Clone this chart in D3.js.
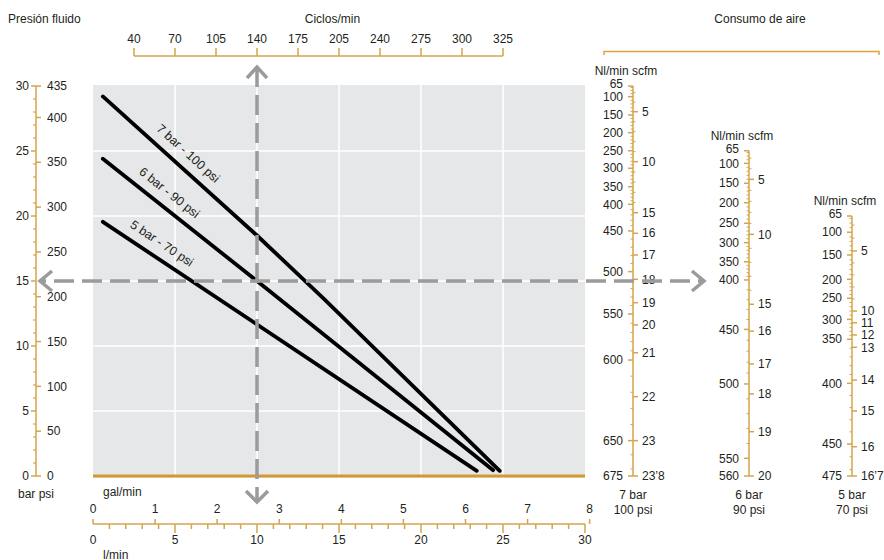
<!DOCTYPE html>
<html>
<head>
<meta charset="utf-8">
<script src="https://cdn.jsdelivr.net/npm/d3@7"></script>
<style>
  body { margin: 0; background: #fff; }
  svg { display: block; font-family: "Liberation Sans", Arial, sans-serif; font-size: 12px; }
  text { fill: #231f20; }
</style>
</head>
<body>
<svg id="chart"></svg>
<script>
// flow axis (l/min) and the scales that hang off it
const lminTicks = [0, 5, 10, 15, 20, 25, 30];
const galTicks = [0, 1, 2, 3, 4, 5, 6, 7, 8];
const cycleLabels = [40, 70, 105, 140, 175, 205, 240, 275, 300, 325];
const cycleAtLmin = [2.5, 5, 7.5, 10, 12.5, 15, 17.5, 20, 22.5, 25];

// fluid pressure axis
const barTicks = [0, 5, 10, 15, 20, 25, 30];
const psiTicks = [0, 50, 100, 150, 200, 250, 300, 350, 400, 435];

// pump curves: flow (l/min) -> fluid pressure (bar)
const flow7 = [0.6, 10.0, 14.05, 24.8];
const press7 = [29.2, 18.5, 13.67, 0.4];
const flow6 = [0.6, 10.0, 24.4];
const press6 = [24.4, 15.0, 0.45];
const flow5 = [0.6, 23.4];
const press5 = [19.55, 0.4];
const curveNames = ["7 bar - 100 psi", "6 bar - 90 psi", "5 bar - 70 psi"];
const labelAtFlow = [5.2, 4.1, 3.7];

// worked example (dashed arrows)
const exampleFlow = 10;
const examplePress = 15;

// air consumption scales: value -> matching fluid pressure (bar) on the nomogram
const nl7 = [65, 100, 150, 200, 250, 300, 350, 400, 450, 500, 550, 600, 650, 675];
const nl7Bar = [30, 29.18, 27.77, 26.41, 25.02, 23.67, 22.25, 20.9, 18.85, 15.72, 12.46, 8.92, 2.72, 0];
const scfm7 = [5, 10, 15, 16, 17, 18, 19, 20, 21, 22, 23, 23.8];
const scfm7Bar = [28.02, 24.18, 20.25, 18.67, 17.0, 15.13, 13.33, 11.62, 9.48, 6.1, 2.72, 0];
const scfm7Labels = ["5", "10", "15", "16", "17", "18", "19", "20", "21", "22", "23", "23’8"];

const nl6 = [65, 100, 150, 200, 250, 300, 350, 400, 450, 500, 550, 560];
const nl6Bar = [25.02, 24.05, 22.52, 21.02, 19.44, 17.95, 16.48, 15.08, 11.28, 7.08, 1.36, 0];
const scfm6 = [5, 10, 15, 16, 17, 18, 19, 20];
const scfm6Bar = [22.82, 18.59, 13.21, 11.15, 8.62, 6.31, 3.41, 0];
const scfm6Labels = ["5", "10", "15", "16", "17", "18", "19", "20"];

const nl5 = [65, 100, 150, 200, 250, 300, 350, 400, 450, 475];
const nl5Bar = [20, 18.75, 17.0, 15.13, 13.67, 12.05, 10.52, 7.13, 2.46, 0];
const scfm5 = [5, 10, 11, 12, 13, 14, 15, 16, 16.7];
const scfm5Bar = [17.31, 12.69, 11.79, 10.85, 9.9, 7.38, 5.0, 2.25, 0];
const scfm5Labels = ["5", "10", "11", "12", "13", "14", "15", "16", "16’7"];

const airNames = [["7 bar", "100 psi"], ["6 bar", "90 psi"], ["5 bar", "70 psi"]];

const PSI_TO_BAR = 0.0689476;
const GAL_TO_L = 3.78541;
const SCFM_TO_NL = 28.317;

const gold = "#d5a44b";
const goldDark = "#d29b32";
const arrowGrey = "#9b9b9b";

const svg = d3.select("#chart").attr("width", 884).attr("height", 560);

const x = d3.scaleLinear().domain([0, 30]).range([93, 585]);
const y = d3.scaleLinear().domain([0, 30]).range([476, 86]);

// plot background + grid
svg.append("rect")
  .attr("x", x(0)).attr("y", y(30) - 1)
  .attr("width", x(30) - x(0)).attr("height", y(0) - y(30) + 3)
  .attr("fill", "#e6e7e9");

svg.append("g").selectAll("line")
  .data(lminTicks.filter(d => d > 0 && d < 30))
  .join("line")
  .attr("x1", d => x(d)).attr("x2", d => x(d))
  .attr("y1", y(30) - 1).attr("y2", y(0) + 2)
  .attr("stroke", "#fff").attr("stroke-width", 1.5);

svg.append("g").selectAll("line")
  .data(barTicks.filter(d => d > 0 && d < 30))
  .join("line")
  .attr("x1", x(0)).attr("x2", x(30))
  .attr("y1", d => y(d)).attr("y2", d => y(d))
  .attr("stroke", "#fff").attr("stroke-width", 1.5);

svg.append("line")
  .attr("x1", x(0)).attr("x2", x(30))
  .attr("y1", y(0)).attr("y2", y(0))
  .attr("stroke", goldDark).attr("stroke-width", 3);

// pump curves
const curves = [[flow7, press7], [flow6, press6], [flow5, press5]];
const line = d3.line().x(d => x(d[0])).y(d => y(d[1]));

curves.forEach(([fl, pr], i) => {
  const pts = fl.map((f, j) => [f, pr[j]]);
  svg.append("path")
    .attr("d", line(pts))
    .attr("fill", "none")
    .attr("stroke", "#000")
    .attr("stroke-width", 3.8)
    .attr("stroke-linecap", "round")
    .attr("stroke-linejoin", "round");

  // label along the curve, shifted to its upper-right side
  const f = labelAtFlow[i];
  const p = d3.scaleLinear().domain(fl).range(pr)(f);
  const k = Math.max(1, d3.bisectLeft(fl, f));
  const dx = x(fl[k]) - x(fl[k - 1]);
  const dy = y(pr[k]) - y(pr[k - 1]);
  const len = Math.hypot(dx, dy);
  const cx = x(f) + 15 * dy / len;
  const cy = y(p) - 15 * dx / len;
  svg.append("text")
    .attr("transform", `translate(${cx},${cy}) rotate(${Math.atan2(dy, dx) * 180 / Math.PI})`)
    .attr("text-anchor", "middle")
    .attr("dy", "0.35em")
    .style("font-size", "12.5px")
    .text(curveNames[i]);
});

// left axis: bar / psi
const axX = 36;
const leftG = svg.append("g");
leftG.append("line")
  .attr("x1", axX).attr("x2", axX).attr("y1", y(30)).attr("y2", y(0))
  .attr("stroke", gold).attr("stroke-width", 1.5);
leftG.selectAll(".minor").data(d3.range(0, 31).filter(d => d % 5))
  .join("line")
  .attr("x1", axX - 3).attr("x2", axX)
  .attr("y1", d => y(d)).attr("y2", d => y(d))
  .attr("stroke", gold).attr("stroke-width", 1.2);
leftG.selectAll(".bar").data(barTicks).join("line")
  .attr("x1", axX - 5).attr("x2", axX)
  .attr("y1", d => y(d)).attr("y2", d => y(d))
  .attr("stroke", gold).attr("stroke-width", 1.5);
leftG.selectAll(".barl").data(barTicks).join("text")
  .attr("x", axX - 7).attr("y", d => y(d)).attr("dy", "0.35em")
  .attr("text-anchor", "end").text(d => d);
leftG.selectAll(".psi").data(psiTicks).join("line")
  .attr("x1", axX).attr("x2", axX + 5)
  .attr("y1", d => y(d * PSI_TO_BAR)).attr("y2", d => y(d * PSI_TO_BAR))
  .attr("stroke", gold).attr("stroke-width", 1.5);
leftG.selectAll(".psil").data(psiTicks).join("text")
  .attr("x", axX + 11).attr("y", d => y(d * PSI_TO_BAR)).attr("dy", "0.35em")
  .text(d => d);

svg.append("text").attr("x", 8).attr("y", 23).text("Presión fluido");
svg.append("text").attr("x", axX).attr("y", 498).attr("text-anchor", "middle").text("bar psi");

// top axis: Ciclos/min
const topY = 56;
const topG = svg.append("g");
topG.append("line")
  .attr("x1", x(cycleAtLmin[0])).attr("x2", x(cycleAtLmin[cycleAtLmin.length - 1]))
  .attr("y1", topY).attr("y2", topY)
  .attr("stroke", gold).attr("stroke-width", 1.5);
topG.selectAll("line.t").data(cycleAtLmin).join("line")
  .attr("x1", d => x(d)).attr("x2", d => x(d))
  .attr("y1", topY - 8).attr("y2", topY)
  .attr("stroke", gold).attr("stroke-width", 1.5);
topG.selectAll("text").data(cycleLabels).join("text")
  .attr("x", (d, i) => x(cycleAtLmin[i])).attr("y", 43)
  .attr("text-anchor", "middle").text(d => d);
svg.append("text").attr("x", x(14.6)).attr("y", 23).attr("text-anchor", "middle").text("Ciclos/min");

// bottom axis: gal/min above, l/min below
const botY = 524;
const xg = d3.scaleLinear().domain([0, 8]).range([x(0), x(8 * GAL_TO_L)]);
const botG = svg.append("g");
botG.append("line")
  .attr("x1", x(0)).attr("x2", x(30)).attr("y1", botY).attr("y2", botY)
  .attr("stroke", gold).attr("stroke-width", 1.5);
botG.selectAll("line.g").data(galTicks).join("line")
  .attr("x1", d => xg(d)).attr("x2", d => xg(d))
  .attr("y1", botY - 5).attr("y2", botY)
  .attr("stroke", gold).attr("stroke-width", 1.5);
botG.selectAll("text.g").data(galTicks).join("text")
  .attr("x", d => xg(d)).attr("y", 513)
  .attr("text-anchor", "middle").text(d => d);
botG.selectAll("line.m").data(d3.range(1, 31)).join("line")
  .attr("x1", d => x(d)).attr("x2", d => x(d))
  .attr("y1", botY).attr("y2", d => botY + (d % 5 ? 5 : 9))
  .attr("stroke", gold).attr("stroke-width", 1.5);
botG.selectAll("text.l").data(lminTicks).join("text")
  .attr("x", d => x(d)).attr("y", 544)
  .attr("text-anchor", "middle").text(d => d);
svg.append("text").attr("x", 103).attr("y", 496).text("gal/min");
svg.append("text").attr("x", 103).attr("y", 559).text("l/min");

// air consumption scales
const airX = [633, 749, 852];
const airScales = [
  [nl7, nl7Bar, scfm7, scfm7Bar, scfm7Labels],
  [nl6, nl6Bar, scfm6, scfm6Bar, scfm6Labels],
  [nl5, nl5Bar, scfm5, scfm5Bar, scfm5Labels]
];

airScales.forEach(([nl, nlBar, sc, scBar, scLab], i) => {
  const ax = airX[i];
  const g = svg.append("g");
  const nlScale = d3.scaleLinear().domain(nl).range(nlBar);
  const top = nl[0] / SCFM_TO_NL;
  const scScale = d3.scaleLinear().domain([top, ...sc]).range([nlBar[0], ...scBar]);

  g.append("line")
    .attr("x1", ax).attr("x2", ax)
    .attr("y1", y(nlBar[0])).attr("y2", y(0))
    .attr("stroke", gold).attr("stroke-width", 1.5);

  const nlMinor = d3.range(Math.ceil(nl[0] / 10) * 10, nl[nl.length - 1], 10).filter(v => !nl.includes(v));
  g.selectAll("line.nm").data(nlMinor).join("line")
    .attr("x1", ax - 2.5).attr("x2", ax)
    .attr("y1", d => y(nlScale(d))).attr("y2", d => y(nlScale(d)))
    .attr("stroke", gold).attr("stroke-width", 1);
  const scMinor = d3.range(Math.ceil(top), sc[sc.length - 1], 1).filter(v => !sc.includes(v));
  g.selectAll("line.sm").data(scMinor).join("line")
    .attr("x1", ax).attr("x2", ax + 2.5)
    .attr("y1", d => y(scScale(d))).attr("y2", d => y(scScale(d)))
    .attr("stroke", gold).attr("stroke-width", 1);

  g.selectAll("line.n").data(nl).join("line")
    .attr("x1", ax - 5).attr("x2", ax)
    .attr("y1", d => y(nlScale(d))).attr("y2", d => y(nlScale(d)))
    .attr("stroke", gold).attr("stroke-width", 1.5);
  g.selectAll("text.n").data(nl).join("text")
    .attr("x", ax - 10).attr("y", (d, j) => y(nlScale(d)) - (j === 0 ? 2 : 0)).attr("dy", "0.35em")
    .attr("text-anchor", "end").text(d => d);

  g.selectAll("line.s").data(sc).join("line")
    .attr("x1", ax).attr("x2", ax + 5)
    .attr("y1", d => y(scScale(d))).attr("y2", d => y(scScale(d)))
    .attr("stroke", gold).attr("stroke-width", 1.5);
  g.selectAll("text.s").data(sc).join("text")
    .attr("x", ax + 9).attr("y", d => y(scScale(d))).attr("dy", "0.35em")
    .text((d, j) => scLab[j]);

  g.append("text").attr("x", ax - 7).attr("y", y(nlBar[0]) - 11)
    .attr("text-anchor", "middle").text("Nl/min scfm");
  g.append("text").attr("x", ax).attr("y", 499)
    .attr("text-anchor", "middle").text(airNames[i][0]);
  g.append("text").attr("x", ax).attr("y", 514)
    .attr("text-anchor", "middle").text(airNames[i][1]);
});

// bracket over the consumption scales
svg.append("path")
  .attr("d", `M604,55 V51.5 H879 V55`)
  .attr("fill", "none").attr("stroke", "#dea23a").attr("stroke-width", 1.5);
svg.append("text").attr("x", 760).attr("y", 23).attr("text-anchor", "middle").text("Consumo de aire");

// worked example: dashed arrows
const ex = x(exampleFlow), ey = y(examplePress);
const arrows = svg.append("g")
  .attr("fill", "none").attr("stroke", arrowGrey).attr("stroke-width", 3.5);
arrows.append("line").attr("x1", ex).attr("x2", ex).attr("y1", 67).attr("y2", 502)
  .attr("stroke-dasharray", "20,8");
arrows.append("line").attr("x1", 40).attr("x2", 703).attr("y1", ey).attr("y2", ey)
  .attr("stroke-dasharray", "20,8").attr("stroke-dashoffset", -14);
arrows.append("path").attr("d", `M${ex - 10},${78} L${ex},${67} L${ex + 10},${78}`);
arrows.append("path").attr("d", `M${ex - 11},${491} L${ex},${502} L${ex + 11},${491}`);
arrows.append("path").attr("d", `M${52},${ey - 10} L${40},${ey} L${52},${ey + 10}`);
arrows.append("path").attr("d", `M${692},${ey - 10} L${704},${ey} L${692},${ey + 10}`);
</script>
</body>
</html>
